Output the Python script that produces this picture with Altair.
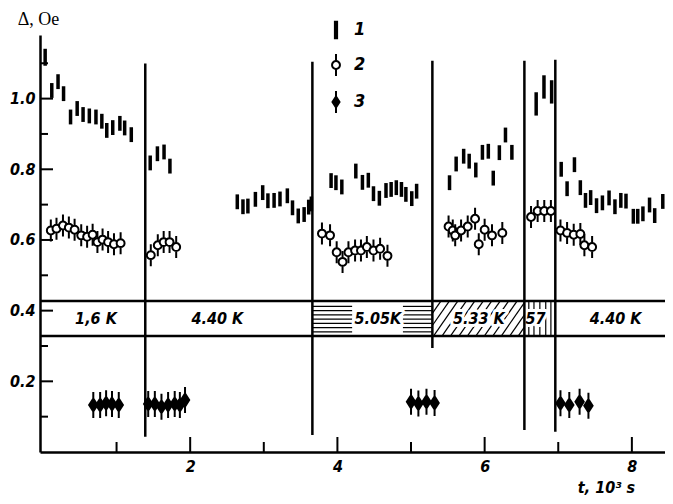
import altair as alt
import numpy as np
import pandas as pd

# ---------------- data ----------------
# series 1: bars (t in 10^3 s, Delta in Oe, half error)
s1_t = [0.03, 0.12, 0.205, 0.28, 0.375, 0.465, 0.545, 0.63, 0.72, 0.80, 0.867, 0.948, 1.045, 1.11, 1.20,
        1.457, 1.555, 1.645, 1.725,
        2.64, 2.717, 2.784, 2.886, 2.985, 3.056, 3.14, 3.22, 3.32, 3.39, 3.468, 3.548, 3.61, 3.646,
        3.914, 3.98, 4.06, 4.25, 4.34, 4.42, 4.49, 4.57, 4.66, 4.73, 4.80, 4.87, 4.93, 5.01, 5.076,
        5.523, 5.613, 5.715, 5.79, 5.88, 5.97, 6.05, 6.117, 6.20, 6.283, 6.37,
        6.70, 6.806, 6.91,
        7.04, 7.12, 7.22, 7.30, 7.37, 7.44, 7.52, 7.60, 7.69, 7.77, 7.85, 7.92, 8.02, 8.08, 8.15, 8.24, 8.31, 8.42]
s1_v = [1.117, 1.023, 1.048, 1.014, 0.948, 0.972, 0.955, 0.951, 0.948, 0.936, 0.910, 0.918, 0.930, 0.917, 0.898,
        0.818, 0.844, 0.849, 0.809,
        0.708, 0.694, 0.696, 0.715, 0.734, 0.711, 0.712, 0.716, 0.725, 0.691, 0.668, 0.672, 0.693, 0.702,
        0.768, 0.762, 0.750, 0.795, 0.763, 0.769, 0.731, 0.718, 0.740, 0.743, 0.748, 0.743, 0.729, 0.717, 0.738,
        0.762, 0.815, 0.837, 0.823, 0.798, 0.848, 0.851, 0.775, 0.847, 0.897, 0.848,
        0.985, 1.033, 1.019,
        0.800, 0.745, 0.813, 0.748, 0.712, 0.720, 0.697, 0.705, 0.719, 0.694, 0.712, 0.710, 0.667, 0.667, 0.674,
        0.699, 0.669, 0.709]
s1_err = [0.024] + [0.021] * 58 + [0.033] * 3 + [0.021] * 18

# series 2: open circles
s2_t = [0.107, 0.184, 0.272, 0.352, 0.43, 0.52, 0.60, 0.675, 0.74, 0.81, 0.885, 0.965, 1.055,
        1.465, 1.56, 1.64, 1.72, 1.81,
        3.79, 3.90, 3.99, 4.07, 4.15, 4.24, 4.32, 4.40, 4.49, 4.58, 4.68,
        5.51, 5.567, 5.60, 5.68, 5.77, 5.87, 5.92, 6.00, 6.10, 6.24,
        6.63, 6.72, 6.81, 6.90,
        7.03, 7.12, 7.21, 7.30, 7.355, 7.46]
s2_v = [0.627, 0.632, 0.641, 0.635, 0.629, 0.613, 0.609, 0.615, 0.594, 0.601, 0.594, 0.588, 0.591,
        0.557, 0.585, 0.594, 0.594, 0.580,
        0.618, 0.613, 0.565, 0.538, 0.565, 0.570, 0.570, 0.580, 0.570, 0.575, 0.555,
        0.638, 0.627, 0.613, 0.627, 0.638, 0.660, 0.588, 0.629, 0.613, 0.620,
        0.665, 0.682, 0.682, 0.682,
        0.627, 0.620, 0.615, 0.617, 0.585, 0.580]

# series 3: filled markers
s3_t = [0.684, 0.777, 0.858, 0.938, 1.03,
        1.43, 1.52, 1.61, 1.70, 1.79, 1.86, 1.93,
        5.00, 5.10, 5.21, 5.32,
        7.03, 7.15, 7.29, 7.41]
s3_v = [0.133, 0.133, 0.138, 0.136, 0.133,
        0.136, 0.136, 0.128, 0.133, 0.136, 0.133, 0.147,
        0.142, 0.137, 0.142, 0.139,
        0.138, 0.133, 0.142, 0.131]

# temperature change lines
sep_t = [1.39, 3.66, 5.29, 6.54, 6.96]
sep_lo = [0.043, 0.048, 0.294, 0.062, 0.057]
sep_hi = [1.099, 1.104, 1.107, 1.107, 1.110]

# temperature band
band_lo, band_hi = 0.328, 0.427
band_text = ["1,6 K", "4.40 K", "5.05K", "5.33 K", "57", "4.40 K"]
band_text_t = [0.72, 2.37, 4.55, 5.92, 6.69, 7.78]
hgap = [4.20, 4.89]            # white gap around the 5.05K label
vhatch_t = [6.60, 6.67, 6.75, 6.83, 6.90]

legend_dom = ["1", "2", "3"]
x_labels = [2, 4, 6, 8]
x_minor = [1, 3, 5, 7]
y_labels = [0.2, 0.4, 0.6, 0.8, 1.0]
y_minor = [0.1, 0.3, 0.5, 0.7, 0.9, 1.1]

# ---------------- chart ----------------
W, H = 625, 417
FONT = "DejaVu Sans Condensed, DejaVu Sans, sans-serif"
xs = alt.Scale(domain=[-0.04, 8.45], nice=False, zero=False)
ys = alt.Scale(domain=[0, 1.18], nice=False, zero=False)

xaxis = alt.Axis(values=x_labels, format="d", ticks=False, grid=False, domainWidth=2.5,
                 domainColor="black", labelFont=FONT, labelFontSize=16, labelFontStyle="italic",
                 labelFontWeight="bold", labelColor="black", labelPadding=6,
                 title="t, 10³ s", titleX=566, titleY=35, titleAlign="center", titleBaseline="middle",
                 titleFont=FONT, titleFontSize=16, titleFontStyle="italic", titleFontWeight="bold",
                 titleColor="black")
yaxis = alt.Axis(values=y_labels, format=".1f", ticks=False, grid=False, domainWidth=2.5,
                 domainColor="black", labelFont=FONT, labelFontSize=16, labelFontStyle="italic",
                 labelFontWeight="bold", labelColor="black", labelPadding=5,
                 title="Δ, Oe", titleAngle=0, titleX=-2, titleY=-16, titleAlign="center",
                 titleBaseline="middle", titleFont="Liberation Serif", titleFontSize=18,
                 titleFontWeight="normal", titleColor="black")


def X(f):
    return alt.X(f, type="quantitative", scale=xs, axis=xaxis)


def Y(f):
    return alt.Y(f, type="quantitative", scale=ys, axis=yaxis)


# hatching
hy = np.linspace(band_lo + 0.012, band_hi - 0.015, 7)
hh = pd.DataFrame([{"x0": a, "x1": b, "y": y}
                   for y in hy for a, b in [(sep_t[1], hgap[0]), (hgap[1], sep_t[2])]])
hatch_h = alt.Chart(hh).mark_rule(color="black", strokeWidth=1.2).encode(
    x=X("x0"), x2=alt.X2("x1"), y=Y("y"))

a, b = sep_t[2], sep_t[3]
run, step = 0.33, 0.115
rows = []
for xb in np.arange(a - run, b, step):
    x0, y0, x1, y1 = xb, band_lo, xb + run, band_hi
    if x0 < a:
        y0 = band_lo + (a - xb) / run * (band_hi - band_lo)
        x0 = a
    if x1 > b:
        y1 = band_lo + (b - xb) / run * (band_hi - band_lo)
        x1 = b
    if x1 > x0:
        rows.append({"x0": x0, "y0": y0, "x1": x1, "y1": y1})
hatch_d = alt.Chart(pd.DataFrame(rows)).mark_rule(color="black", strokeWidth=1.2).encode(
    x=X("x0"), x2=alt.X2("x1"), y=Y("y0"), y2=alt.Y2("y1"))

hatch_v = alt.Chart(pd.DataFrame({"t": vhatch_t, "lo": band_lo, "hi": band_hi})).mark_rule(
    color="black", strokeWidth=1.2).encode(x=X("t"), y=Y("lo"), y2=alt.Y2("hi"))

lab_df = pd.DataFrame({"t": band_text_t, "y": (band_lo + band_hi) / 2, "txt": band_text})
text_kw = dict(font=FONT, fontSize=16, fontStyle="italic", fontWeight="bold",
               align="center", baseline="middle")
halo = alt.Chart(lab_df).mark_text(color="white", stroke="white", strokeWidth=6,
                                   strokeJoin="round", **text_kw).encode(
    x=X("t"), y=Y("y"), text="txt:N")
labels = alt.Chart(lab_df).mark_text(color="black", **text_kw).encode(
    x=X("t"), y=Y("y"), text="txt:N")

band = alt.Chart(pd.DataFrame({"y": [band_lo, band_hi]})).mark_rule(
    color="black", strokeWidth=2.5).encode(x=alt.value(0), x2=alt.value(W), y=Y("y"))

seps = alt.Chart(pd.DataFrame({"t": sep_t, "lo": sep_lo, "hi": sep_hi})).mark_rule(
    color="black", strokeWidth=2.5).encode(x=X("t"), y=Y("lo"), y2=alt.Y2("hi"))

s1_df = pd.DataFrame({"t": s1_t, "v": s1_v, "e": s1_err})
s1_df["lo"] = s1_df["v"] - s1_df["e"]
s1_df["hi"] = s1_df["v"] + s1_df["e"]
s1 = alt.Chart(s1_df).mark_rule(color="black", strokeWidth=3.5).encode(
    x=X("t"), y=Y("lo"), y2=alt.Y2("hi"))

P_BAR = "M-0.1,-0.75L0.1,-0.75L0.1,0.75L-0.1,0.75Z"
P_CIRC = "M0,-1L0,-0.36M0.36,0A0.36,0.36,0,1,1,-0.36,0A0.36,0.36,0,1,1,0.36,0ZM0,0.36L0,1"
P_DIAM = "M0,-1L0,1M0,-0.5L0.32,0L0,0.5L-0.32,0Z"

leg = alt.Legend(title=None, orient="none", legendX=284, legendY=-17, symbolSize=484,
                 symbolStrokeColor="black", symbolStrokeWidth=2, symbolOpacity=1,
                 labelFont=FONT, labelFontSize=18, labelFontStyle="italic", labelFontWeight="bold",
                 labelColor="black", rowPadding=7, labelOffset=6, padding=0)
shape_enc = alt.Shape("series:N", scale=alt.Scale(domain=legend_dom, range=[P_BAR, P_CIRC, P_DIAM]),
                      legend=leg)
fill_enc = alt.Fill("series:N", scale=alt.Scale(domain=legend_dom, range=["black", "white", "black"]),
                    legend=leg)
stroke_enc = alt.Stroke("series:N", scale=alt.Scale(domain=legend_dom, range=["black", "black", "black"]),
                        legend=leg)

s2 = alt.Chart(pd.DataFrame({"t": s2_t, "v": s2_v, "series": "2"})).mark_point(
    filled=True, stroke="black", strokeWidth=2, opacity=1, size=484).encode(
    x=X("t"), y=Y("v"), shape=shape_enc, fill=fill_enc, stroke=stroke_enc)
s3 = alt.Chart(pd.DataFrame({"t": s3_t, "v": s3_v, "series": "3"})).mark_point(
    filled=True, stroke="black", strokeWidth=2, opacity=1, size=676).encode(
    x=X("t"), y=Y("v"), shape=shape_enc, fill=fill_enc, stroke=stroke_enc)

tick_kw = dict(color="black", strokeWidth=2)
xt_major = alt.Chart(pd.DataFrame({"t": x_labels})).mark_rule(**tick_kw).encode(
    x=X("t"), y=alt.value(H), y2=alt.value(H - 15))
xt_minor = alt.Chart(pd.DataFrame({"t": x_minor})).mark_rule(**tick_kw).encode(
    x=X("t"), y=alt.value(H), y2=alt.value(H - 10))
yt_major = alt.Chart(pd.DataFrame({"v": y_labels})).mark_rule(**tick_kw).encode(
    y=Y("v"), x=alt.value(0), x2=alt.value(13))
yt_minor = alt.Chart(pd.DataFrame({"v": y_minor})).mark_rule(**tick_kw).encode(
    y=Y("v"), x=alt.value(0), x2=alt.value(8))

chart = alt.layer(
    hatch_h, hatch_d, hatch_v, halo, labels, band, seps, s1, s2, s3,
    xt_major, xt_minor, yt_major, yt_minor
).properties(
    width=W, height=H,
    padding={"left": 32, "top": 27, "right": 0, "bottom": 49},
    autosize=alt.AutoSizeParams(type="none"),
).configure_view(stroke=None)

chart.save("out.html", embed_options={"renderer": "svg", "actions": False})
